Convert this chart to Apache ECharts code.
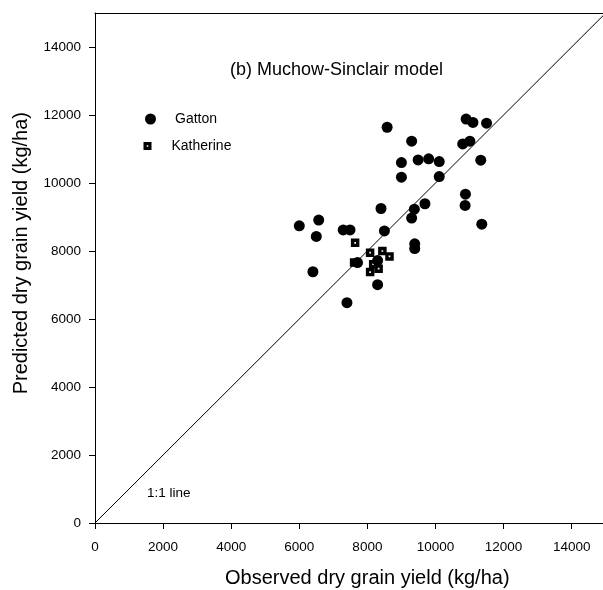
<!DOCTYPE html>
<html>
<head>
<meta charset="utf-8">
<script src="https://cdn.jsdelivr.net/npm/echarts@6/dist/echarts.min.js"></script>
<style>
  html, body { margin: 0; padding: 0; background: #fff; }
  #main { width: 603px; height: 590px; }
</style>
</head>
<body>
<div id="main"></div>
<script>
// observed (x) vs predicted (y) dry grain yield, kg/ha
var gattonObs = [8580, 9300, 10900, 11100, 11500, 10800, 11010, 9000, 9490, 9800, 10110, 11330,
  9000, 10110, 10880, 10870, 9690, 9380, 9300, 8400, 6570, 6000, 7290, 7490, 8500, 11360,
  9390, 9390, 6500, 6400, 7400, 8300, 7710, 8300];
var gattonPred = [11640, 11230, 11880, 11780, 11760, 11150, 11230, 10600, 10680, 10710, 10630, 10670,
  10170, 10190, 9670, 9340, 9390, 9230, 8970, 9250, 8910, 8740, 8620, 8620, 8590, 8790,
  8210, 8070, 8430, 7390, 6480, 7010, 7660, 7720];
var katherineObs = [7640, 8080, 8440, 8650, 7610, 8170, 8330, 8080];
var katherinePred = [8240, 7950, 8000, 7840, 7660, 7610, 7480, 7380];
var oneToOne = [0, 15000];
var ticks = [0, 2000, 4000, 6000, 8000, 10000, 12000, 14000];

var font = "Liberation Sans, Arial, Helvetica, sans-serif";

function pairs(xs, ys) {
  var res = [];
  for (var i = 0; i < xs.length; i++) res.push([xs[i], ys[i]]);
  return res;
}

var chart = echarts.init(document.getElementById("main"));

var axisCommon = {
  type: "value",
  min: 0,
  max: 15000,
  interval: 2000,
  axisLine: { show: true, onZero: false, lineStyle: { color: "#000", width: 1 } },
  axisTick: { show: true, length: 6, lineStyle: { color: "#000" } },
  axisLabel: {
    color: "#000", fontFamily: font, fontSize: 13.5,
    showMaxLabel: false,
    formatter: function (v) { return ticks.indexOf(v) >= 0 ? String(v) : ""; }
  },
  splitLine: { show: false }
};

var option = {
  animation: false,
  backgroundColor: "#fff",
  grid: { left: 95, top: 13, right: 0, height: 510 },
  // the original frame runs a little past the right edge of the picture
  xAxis: [
    Object.assign({}, axisCommon, {
      max: 14920,
      axisLabel: Object.assign({}, axisCommon.axisLabel, { margin: 17 })
    }),
    { type: "value", position: "top", min: 0, max: 14920,
      axisLine: { show: true, onZero: false, lineStyle: { color: "#000", width: 1 } },
      axisTick: { show: false }, axisLabel: { show: false }, splitLine: { show: false } }
  ],
  yAxis: Object.assign({}, axisCommon, {
    axisLabel: Object.assign({}, axisCommon.axisLabel, { margin: 14 })
  }),
  legend: [
    {
      data: ["Gatton"], orient: "vertical", left: 145, top: 112, padding: 0,
      itemWidth: 11, itemHeight: 11,
      textStyle: { color: "#000", fontFamily: font, fontSize: 14, padding: [0, 0, 0, 14] }
    },
    {
      data: ["Katherine"], orient: "vertical", left: 143.5, top: 139, padding: 0,
      itemWidth: 8, itemHeight: 8,
      textStyle: { color: "#000", fontFamily: font, fontSize: 14, padding: [0, 0, 0, 15] }
    }
  ],
  graphic: [
    { type: "text", left: 230, top: 61,
      style: { text: "(b) Muchow-Sinclair model", font: "18px " + font, fill: "#000" } },
    { type: "text", left: 147, top: 486,
      style: { text: "1:1 line", font: "13.5px " + font, fill: "#000" } },
    { type: "text", left: 225, top: 568,
      style: { text: "Observed dry grain yield (kg/ha)", font: "20px " + font, fill: "#000" } },
    { type: "text", left: 11, top: 112, rotation: Math.PI / 2,
      style: { text: "Predicted dry grain yield (kg/ha)", font: "20px " + font, fill: "#000" } }
  ],
  series: [
    {
      name: "1:1", type: "line", silent: true, symbol: "none",
      data: pairs(oneToOne, oneToOne),
      lineStyle: { color: "#000", width: 1 }, z: 1
    },
    {
      name: "Gatton", type: "scatter", symbol: "circle", symbolSize: 11,
      data: pairs(gattonObs, gattonPred),
      itemStyle: { color: "#000", opacity: 1 }, z: 2
    },
    {
      name: "Katherine", type: "scatter",
      symbol: "path://M0,0H10V10H0Z M4,4V6H6V4Z", symbolSize: 8.5,
      data: pairs(katherineObs, katherinePred),
      itemStyle: { color: "#000", opacity: 1 }, z: 3
    }
  ]
};

chart.setOption(option);
</script>
</body>
</html>
